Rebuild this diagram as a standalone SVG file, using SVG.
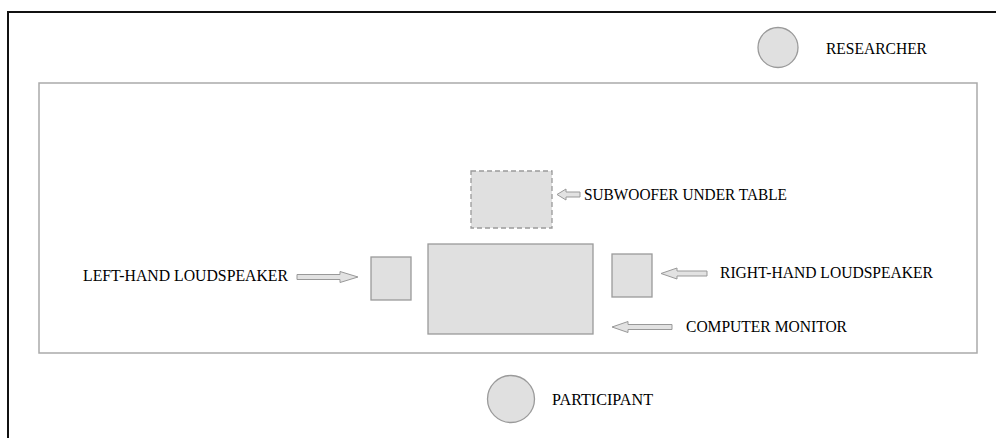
<svg xmlns="http://www.w3.org/2000/svg" width="996" height="438" viewBox="0 0 996 438">
<style>
.shape{fill:#e0e0e0;stroke:#9a9a9a;stroke-width:1.3}
.dash{fill:#e0e0e0;stroke:#9a9a9a;stroke-width:1.3;stroke-dasharray:5,3}
.arrow{fill:#e2e2e2;stroke:#999;stroke-width:1}
.lbl{font-family:"Liberation Serif","Times New Roman",serif;font-size:16.5px;fill:#000}
</style>
<rect width="996" height="438" fill="#fff"/>
<path d="M8,438 V12 H996" fill="none" stroke="#111" stroke-width="2"/>
<rect id="room" x="39" y="83" width="938" height="270" fill="none" stroke="#aaa" stroke-width="1.5"/>
<g id="researcher">
<circle class="shape" cx="778" cy="47.5" r="20"/>
<text class="lbl" x="826" y="53.5" textLength="101" lengthAdjust="spacingAndGlyphs">RESEARCHER</text>
</g>
<g id="subwoofer">
<rect class="dash" x="471" y="171" width="81" height="57"/>
<text class="lbl" x="584" y="199.5" textLength="203" lengthAdjust="spacingAndGlyphs">SUBWOOFER UNDER TABLE</text>
</g>
<g id="monitor">
<rect class="shape" x="428" y="244" width="165" height="90"/>
<text class="lbl" x="686" y="331.5" textLength="161" lengthAdjust="spacingAndGlyphs">COMPUTER MONITOR</text>
</g>
<g id="left-speaker">
<rect class="shape" x="371" y="257" width="40" height="43"/>
<text class="lbl" x="83" y="280.5" textLength="205" lengthAdjust="spacingAndGlyphs">LEFT-HAND LOUDSPEAKER</text>
</g>
<g id="right-speaker">
<rect class="shape" x="612" y="254" width="40" height="43"/>
<text class="lbl" x="720" y="278" textLength="213" lengthAdjust="spacingAndGlyphs">RIGHT-HAND LOUDSPEAKER</text>
</g>
<g id="participant">
<circle class="shape" cx="511" cy="399" r="23.5"/>
<text class="lbl" x="552" y="405" textLength="101" lengthAdjust="spacingAndGlyphs">PARTICIPANT</text>
</g>
<g id="connectors">
<polygon class="arrow" points="297,274.5 340,274.5 340,271.5 358,277 340,282.5 340,279.5 297,279.5"/>
<polygon class="arrow" points="707,271 677,271 677,268 661,273.5 677,279 677,276 707,276"/>
<polygon class="arrow" points="672,324.5 628,324.5 628,321.5 612,327 628,332.5 628,329.5 672,329.5"/>
<polygon class="arrow" points="580,192 566,192 566,189 557,194.5 566,200 566,197 580,197"/>
</g>
</svg>
